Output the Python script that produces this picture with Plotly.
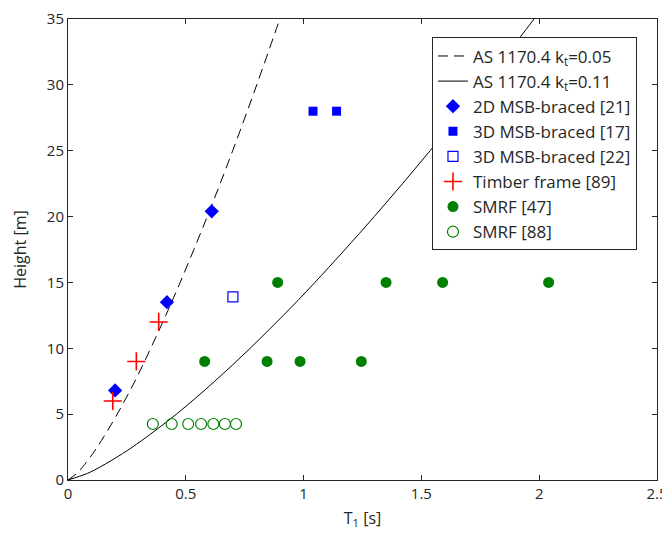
import plotly.graph_objects as go

# Code curves (height vs period)
curve_h = [0, 0.5, 1, 2, 3, 5, 7.5, 10, 12.5, 15, 20, 25, 30, 35]
curve_t005 = [0, 0.037, 0.0625, 0.105, 0.142, 0.209, 0.284, 0.351, 0.415, 0.476, 0.591, 0.699, 0.801, 0.899]
curve_t011 = [0, 0.082, 0.1375, 0.231, 0.313, 0.460, 0.623, 0.773, 0.914, 1.048, 1.300, 1.537, 1.763, 1.978]

msb2d_21_t = [0.20, 0.42, 0.61]
msb2d_21_h = [6.8, 13.5, 20.4]
msb3d_17_t = [1.04, 1.14]
msb3d_17_h = [28, 28]
msb3d_22_t = [0.70]
msb3d_22_h = [13.9]
timber_t = [0.19, 0.29, 0.385]
timber_h = [6.0, 9.0, 12.0]
smrf47_t = [0.58, 0.845, 0.985, 1.245, 0.89, 1.35, 1.59, 2.04]
smrf47_h = [9, 9, 9, 9, 15, 15, 15, 15]
smrf88_t = [0.36, 0.44, 0.51, 0.565, 0.617, 0.666, 0.713]
smrf88_h = [4.25, 4.25, 4.25, 4.25, 4.25, 4.25, 4.25]

FONT = "Open Sans"
TXT = "#262626"

fig = go.Figure()
fig.add_trace(go.Scatter(x=curve_t005, y=curve_h, mode="lines", line_shape="spline",
                         line=dict(color="black", width=1, dash="10px,6px"),
                         name="AS 1170.4 k<sub>t</sub>=0.05"))
fig.add_trace(go.Scatter(x=curve_t011, y=curve_h, mode="lines", line_shape="spline",
                         line=dict(color="black", width=1),
                         name="AS 1170.4 k<sub>t</sub>=0.11"))
fig.add_trace(go.Scatter(x=msb2d_21_t, y=msb2d_21_h, mode="markers",
                         marker=dict(symbol="diamond", size=11, color="#0000ff"),
                         name="2D MSB-braced [21]"))
fig.add_trace(go.Scatter(x=msb3d_17_t, y=msb3d_17_h, mode="markers",
                         marker=dict(symbol="square", size=9, color="#0000ff"),
                         name="3D MSB-braced [17]"))
fig.add_trace(go.Scatter(x=msb3d_22_t, y=msb3d_22_h, mode="markers",
                         marker=dict(symbol="square-open", size=10, color="#0000ff", line=dict(width=1.2)),
                         name="3D MSB-braced [22]"))
fig.add_trace(go.Scatter(x=timber_t, y=timber_h, mode="markers",
                         marker=dict(symbol="cross-thin", size=13, color="#ff0000", line=dict(width=1.6, color="#ff0000")),
                         name="Timber frame [89]"))
fig.add_trace(go.Scatter(x=smrf47_t, y=smrf47_h, mode="markers",
                         marker=dict(symbol="circle", size=11, color="#008000"),
                         name="SMRF [47]"))
fig.add_trace(go.Scatter(x=smrf88_t, y=smrf88_h, mode="markers",
                         marker=dict(symbol="circle-open", size=11, color="#008000", line=dict(width=1.2)),
                         name="SMRF [88]"))

axis_common = dict(showgrid=False, zeroline=False, showline=True, linecolor=TXT, linewidth=1,
                   mirror="ticks", ticks="inside", ticklen=5, tickcolor=TXT, automargin=False,
                   ticklabeloverflow="allow",
                   tickfont=dict(family=FONT, size=15, color=TXT))
fig.update_xaxes(range=[0, 2.5], tickvals=[0, 0.5, 1, 1.5, 2, 2.5], ticktext=["0", "0.5", "1", "1.5", "2", "2.5"],
                 title=dict(text="T<sub>1</sub> [s]", font=dict(family=FONT, size=16, color=TXT), standoff=10),
                 **axis_common)
fig.update_yaxes(range=[0, 35], tickvals=[0, 5, 10, 15, 20, 25, 30, 35],
                 title=dict(text="Height [m]", font=dict(family=FONT, size=16, color=TXT), standoff=16),
                 **axis_common)
# the page body adds an 8px offset, so the figure is sized/margined to compensate
fig.update_layout(
    width=662, height=530,
    margin=dict(l=60, r=13, t=11, b=58),
    paper_bgcolor="white", plot_bgcolor="white",
    font=dict(family=FONT, size=15, color=TXT),
    showlegend=True,
    legend=dict(x=0.966, y=0.96, xanchor="right", yanchor="top",
                bordercolor=TXT, borderwidth=1, bgcolor="white",
                font=dict(family=FONT, size=17, color=TXT),
                tracegroupgap=0, itemsizing="trace"),
)
fig.write_html("out.html")
